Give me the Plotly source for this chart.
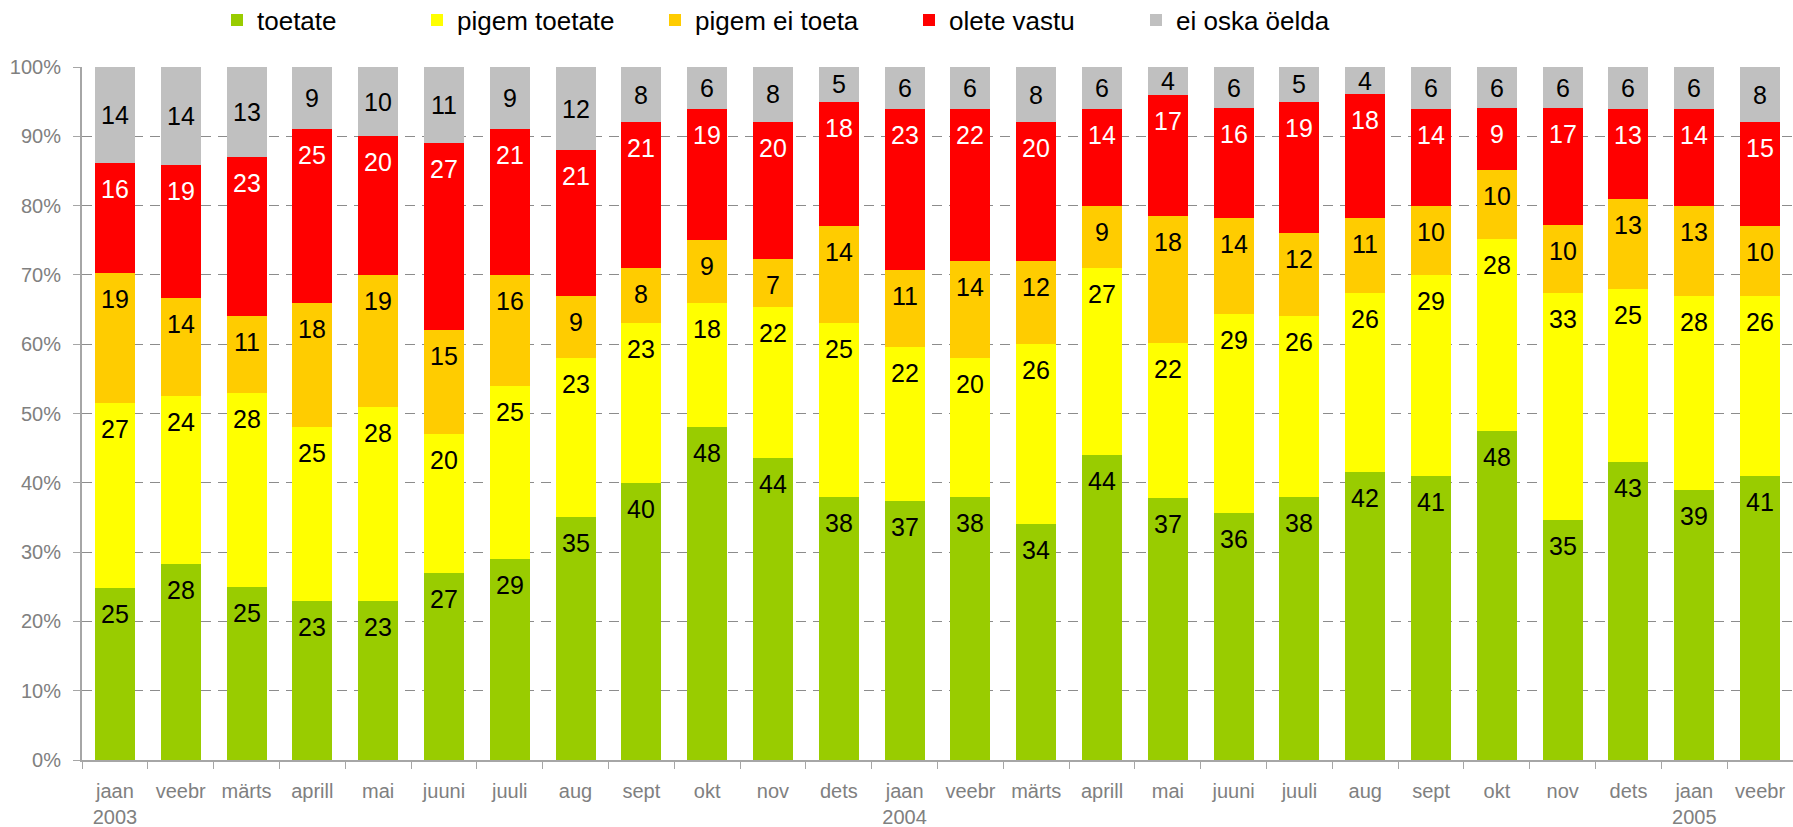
import plotly.graph_objects as go

months = ["jaan<br>2003", "veebr", "märts", "aprill", "mai", "juuni", "juuli", "aug", "sept", "okt", "nov", "dets",
          "jaan<br>2004", "veebr", "märts", "aprill", "mai", "juuni", "juuli", "aug", "sept", "okt", "nov", "dets",
          "jaan<br>2005", "veebr"]

toetate = [25, 28, 25, 23, 23, 27, 29, 35, 40, 48, 44, 38, 37, 38, 34, 44, 37, 36, 38, 42, 41, 48, 35, 43, 39, 41]
pigem_toetate = [27, 24, 28, 25, 28, 20, 25, 23, 23, 18, 22, 25, 22, 20, 26, 27, 22, 29, 26, 26, 29, 28, 33, 25, 28, 26]
pigem_ei_toeta = [19, 14, 11, 18, 19, 15, 16, 9, 8, 9, 7, 14, 11, 14, 12, 9, 18, 14, 12, 11, 10, 10, 10, 13, 13, 10]
olete_vastu = [16, 19, 23, 25, 20, 27, 21, 21, 21, 19, 20, 18, 23, 22, 20, 14, 17, 16, 19, 18, 14, 9, 17, 13, 14, 15]
ei_oska = [14, 14, 13, 9, 10, 11, 9, 12, 8, 6, 8, 5, 6, 6, 8, 6, 4, 6, 5, 4, 6, 6, 6, 6, 6, 8]

y_ticks = list(range(0, 101, 10))
y_tick_text = [f"{v}%" for v in y_ticks]

series = [
    ("toetate", toetate, "#99CC00", "black"),
    ("pigem toetate", pigem_toetate, "#FFFF00", "black"),
    ("pigem ei toeta", pigem_ei_toeta, "#FFCC00", "black"),
    ("olete vastu", olete_vastu, "#FF0000", "white"),
    ("ei oska öelda", ei_oska, "#C0C0C0", "black"),
]

W, H = 1793, 827
ML, MR, MT, MB = 82, 0, 67, 67
PW = W - ML - MR
PH = H - MT - MB

FONT = "Liberation Sans, Arial, sans-serif"
x = list(range(len(months)))
totals = [sum(s[1][i] for s in series) for i in x]

fig = go.Figure()
legend_px = [242, 442, 680, 934, 1161]
annotations = []
cum = [0.0] * len(x)
for k, (name, vals, color, tcol) in enumerate(series):
    lname = "legend" if k == 0 else f"legend{k+1}"
    fig.add_trace(go.Bar(x=x, y=vals, name=name, marker=dict(color=color, line=dict(width=0)),
                         legend=lname, hoverinfo="skip"))
    for i in x:
        base = cum[i] / totals[i] * 100
        top = (cum[i] + vals[i]) / totals[i] * 100
        if k == 4:
            annotations.append(dict(x=i, y=(base + top) / 2, xref="x", yref="y", text=str(vals[i]),
                                    showarrow=False, yanchor="middle",
                                    font=dict(family=FONT, size=25, color=tcol)))
        else:
            annotations.append(dict(x=i, y=top, xref="x", yref="y", text=str(vals[i]),
                                    showarrow=False, yanchor="top", yshift=-10,
                                    font=dict(family=FONT, size=25, color=tcol)))
        cum[i] += vals[i]

legends = {}
for k, px in enumerate(legend_px):
    key = "legend" if k == 0 else f"legend{k+1}"
    legends[key] = dict(x=(px - 25 - ML) / PW, y=(H - MB - 20) / PH, xanchor="left", yanchor="middle",
                        orientation="h", bgcolor="rgba(0,0,0,0)", borderwidth=0,
                        font=dict(family=FONT, size=26, color="black"))

fig.update_layout(
    width=W, height=H,
    margin=dict(l=ML, r=MR, t=MT, b=MB, autoexpand=False),
    barmode="stack", barnorm="percent", bargap=0.392,
    plot_bgcolor="white", paper_bgcolor="white",
    showlegend=True,
    annotations=annotations,
    **legends,
)
fig.update_xaxes(
    range=[-0.5, len(x) - 0.5],
    tickmode="array", tickvals=x, ticktext=months,
    ticks="", showline=True, linecolor="#A6A6A6", linewidth=2,
    tickfont=dict(family=FONT, size=20, color="#808080"),
    ticklabelstandoff=12,
    minor=dict(tickmode="array", tickvals=[i - 0.5 for i in range(len(x) + 1)],
               ticks="outside", ticklen=7, tickcolor="#A6A6A6", tickwidth=1, showgrid=False),
    showgrid=False, zeroline=False, fixedrange=True,
)
fig.update_yaxes(
    range=[0, 100], tickmode="array", tickvals=y_ticks, ticktext=y_tick_text,
    ticks="outside", ticklen=7, tickcolor="#A6A6A6", tickwidth=1,
    showline=True, linecolor="#A6A6A6", linewidth=2,
    showgrid=True, gridcolor="#8C8C8C", gridwidth=1, griddash="10px,7px",
    tickfont=dict(family=FONT, size=20, color="#808080"),
    ticklabelstandoff=8,
    zeroline=False, fixedrange=True,
)

fig.write_html("out.html", config={"displayModeBar": False},
               post_script="document.body.style.margin='0';document.body.style.padding='0';"
                           "document.body.style.overflow='hidden';")
